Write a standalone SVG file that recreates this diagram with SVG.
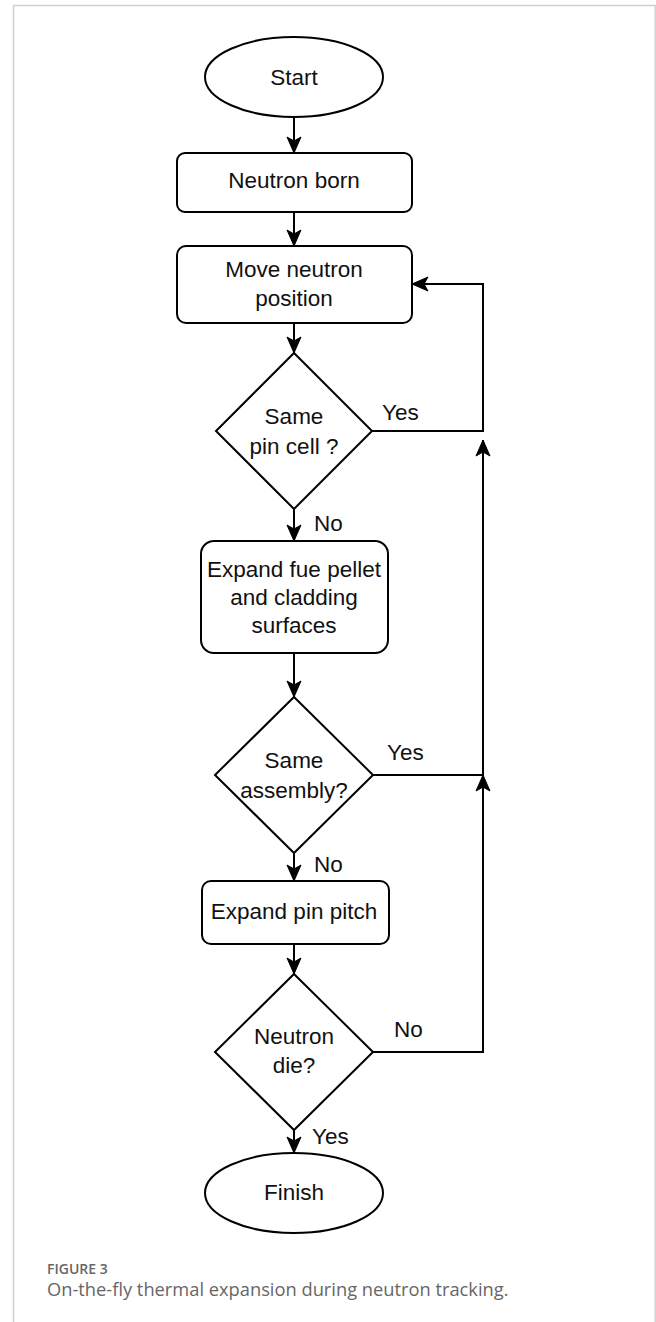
<svg xmlns="http://www.w3.org/2000/svg" width="656" height="1322" viewBox="0 0 656 1322">
<style>
.shape{fill:#fff;stroke:#000;stroke-width:2}
.t{font-family:"Liberation Sans",Arial,sans-serif;font-size:22.5px;fill:#111;text-anchor:middle}
.lbl{font-family:"Liberation Sans",Arial,sans-serif;font-size:22.5px;fill:#111}
.edge{fill:none;stroke:#000;stroke-width:2}
.cap1{font-family:"Open Sans",sans-serif;font-size:14px;font-weight:600;fill:#666}
.cap2{font-family:"Open Sans",sans-serif;font-size:18.3px;fill:#666}
</style>
<defs>
<marker id="arr" viewBox="0 0 18 16" refX="17" refY="8" markerWidth="18" markerHeight="16" markerUnits="userSpaceOnUse" orient="auto">
<path d="M1,1 L17,8 L1,15 L5,8 Z" fill="#000" stroke="#000" stroke-width="1"/>
</marker>
</defs>
<rect width="656" height="1322" fill="#fff"/>
<path d="M13.5,1322 V5.5 H655.2 V1322" fill="none" stroke="#d0d0d0" stroke-width="1.5"/>
<g id="connectors">
<line class="edge" x1="294" y1="117" x2="294" y2="153" marker-end="url(#arr)"/>
<line class="edge" x1="294" y1="212" x2="294" y2="246" marker-end="url(#arr)"/>
<line class="edge" x1="294" y1="323" x2="294" y2="353" marker-end="url(#arr)"/>
<line class="edge" x1="294" y1="509" x2="294" y2="541" marker-end="url(#arr)"/>
<line class="edge" x1="294" y1="653" x2="294" y2="697" marker-end="url(#arr)"/>
<line class="edge" x1="294" y1="853" x2="294" y2="881" marker-end="url(#arr)"/>
<line class="edge" x1="294" y1="944" x2="294" y2="974" marker-end="url(#arr)"/>
<line class="edge" x1="294" y1="1130" x2="294" y2="1153" marker-end="url(#arr)"/>
<polyline class="edge" points="372,431 483,431 483,284 412,284" marker-end="url(#arr)"/>
<polyline class="edge" points="373,775 483,775 483,440" marker-end="url(#arr)"/>
<polyline class="edge" points="373,1052 483,1052 483,775" marker-end="url(#arr)"/>
<text class="lbl" x="382" y="420">Yes</text>
<text class="lbl" x="314" y="531">No</text>
<text class="lbl" x="387" y="760">Yes</text>
<text class="lbl" x="314" y="872">No</text>
<text class="lbl" x="394" y="1037">No</text>
<text class="lbl" x="312" y="1144">Yes</text>
</g>
<g id="start">
<ellipse class="shape" cx="294" cy="77" rx="89" ry="40"/>
<text class="t" x="294" y="85">Start</text>
</g>
<g id="neutron-born">
<rect class="shape" x="177" y="153" width="235" height="59" rx="8"/>
<text class="t" x="294" y="188">Neutron born</text>
</g>
<g id="move">
<rect class="shape" x="177" y="246" width="235" height="77" rx="9"/>
<text class="t" x="294" y="277">Move neutron</text>
<text class="t" x="294" y="306">position</text>
</g>
<g id="same-pin-cell">
<polygon class="shape" points="294,353 372,431 294,509 216,431"/>
<text class="t" x="294" y="424">Same</text>
<text class="t" x="294" y="454">pin cell ?</text>
</g>
<g id="expand-fuel">
<rect class="shape" x="201" y="541" width="187" height="112" rx="13"/>
<text class="t" x="294" y="577">Expand fue pellet</text>
<text class="t" x="294" y="605">and cladding</text>
<text class="t" x="294" y="633">surfaces</text>
</g>
<g id="same-assembly">
<polygon class="shape" points="294,697 373,775 294,853 215,775"/>
<text class="t" x="294" y="768">Same</text>
<text class="t" x="294" y="798">assembly?</text>
</g>
<g id="expand-pitch">
<rect class="shape" x="202" y="881" width="187" height="63" rx="9"/>
<text class="t" x="294" y="919">Expand pin pitch</text>
</g>
<g id="neutron-die">
<polygon class="shape" points="294,974 373,1052 294,1130 215,1052"/>
<text class="t" x="294" y="1044">Neutron</text>
<text class="t" x="294" y="1073">die?</text>
</g>
<g id="finish">
<ellipse class="shape" cx="294" cy="1193" rx="89" ry="40"/>
<text class="t" x="294" y="1200">Finish</text>
</g>
<text class="cap1" x="47" y="1274">FIGURE 3</text>
<text class="cap2" x="47" y="1296">On-the-fly thermal expansion during neutron tracking.</text>
</svg>
